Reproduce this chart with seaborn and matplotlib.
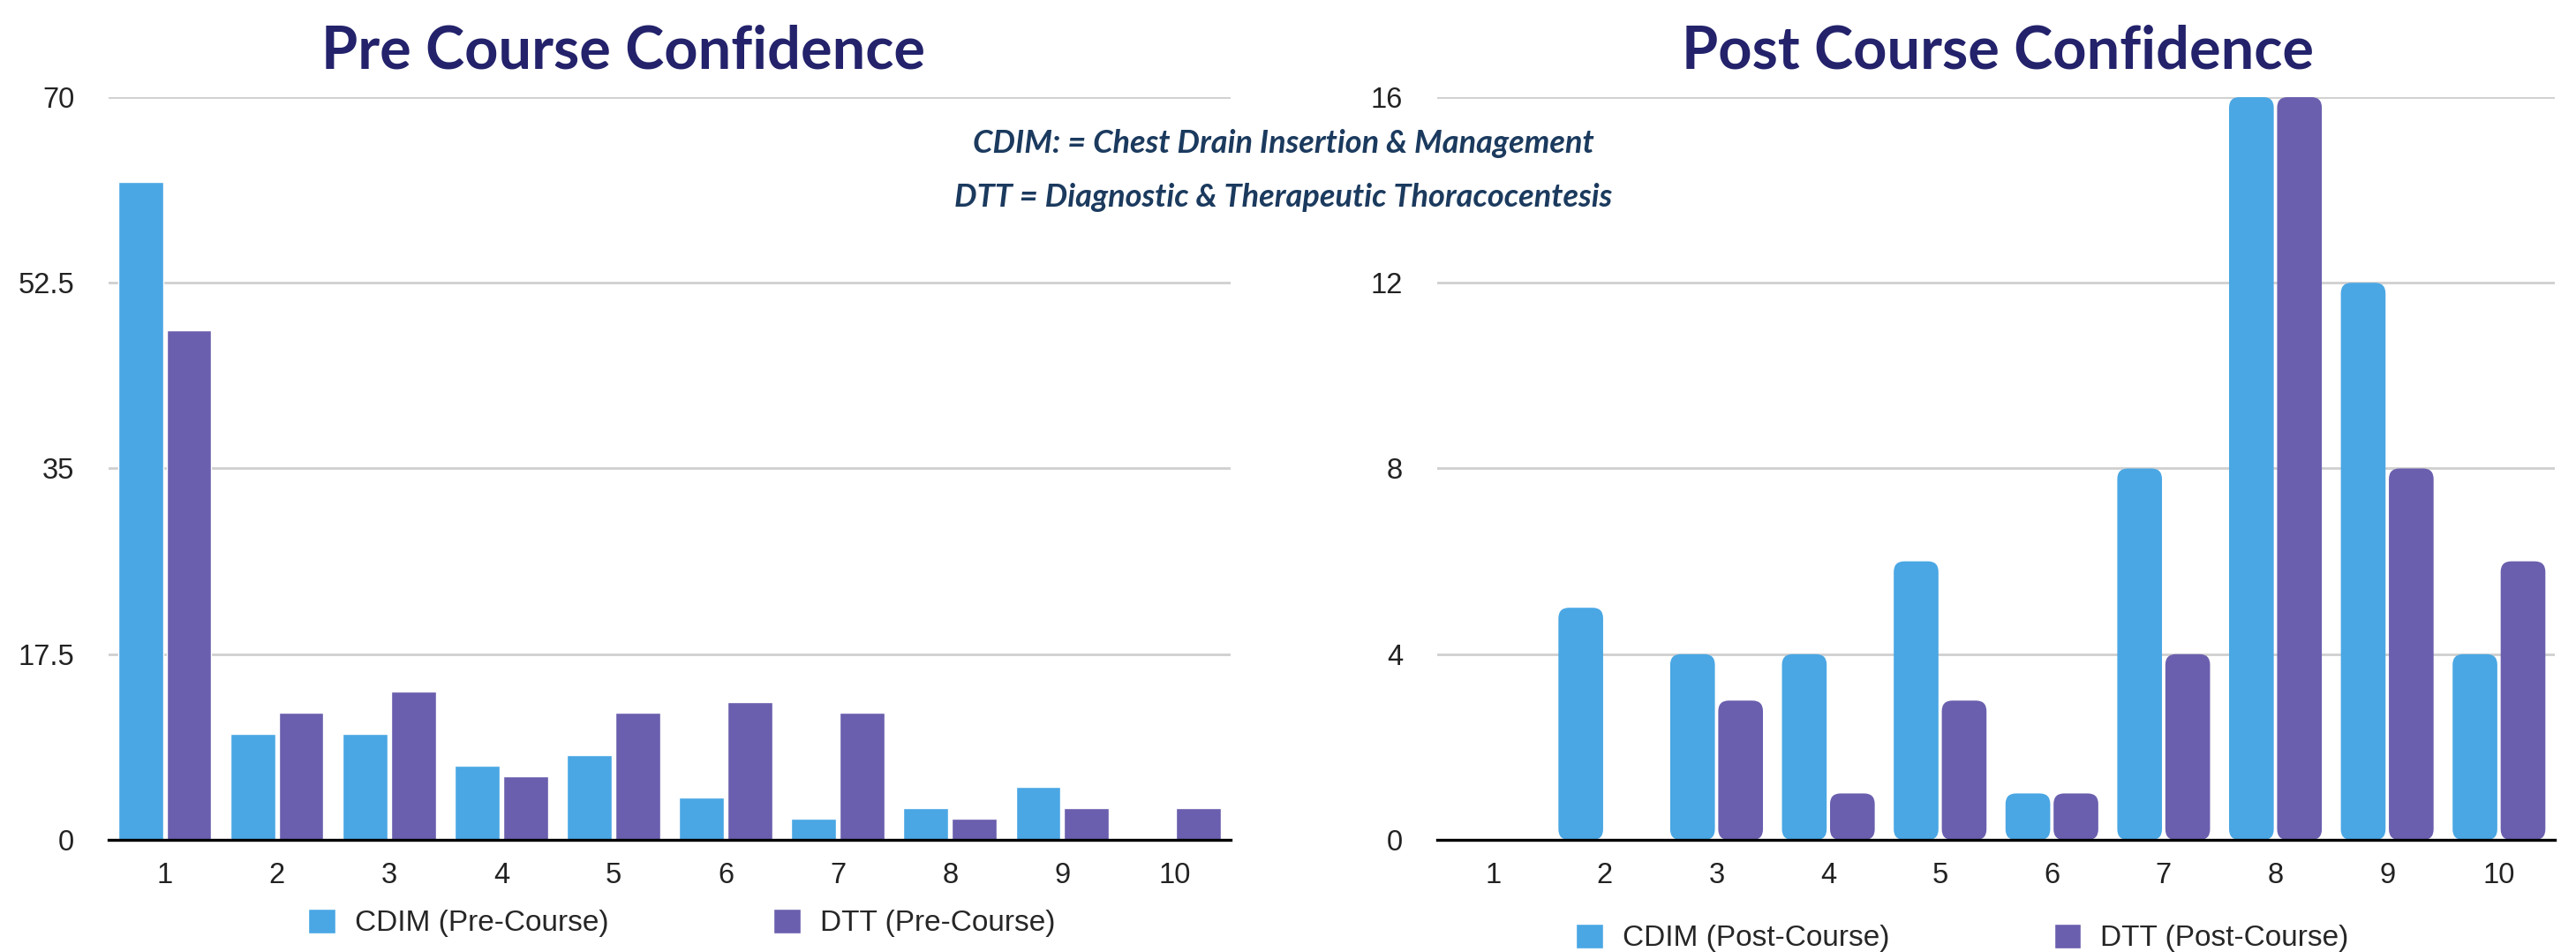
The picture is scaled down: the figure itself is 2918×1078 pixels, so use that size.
import pandas as pd
import seaborn as sns
import matplotlib.pyplot as plt
from matplotlib.patches import FancyBboxPatch, BoxStyle

# data
scores = ['1', '2', '3', '4', '5', '6', '7', '8', '9', '10']
pre_cdim = [62, 10, 10, 7, 8, 4, 2, 3, 5, 0]
pre_dtt = [48, 12, 14, 6, 12, 13, 12, 2, 3, 3]
post_cdim = [0, 5, 4, 4, 6, 1, 8, 16, 12, 4]
post_dtt = [0, 0, 3, 1, 3, 1, 4, 16, 8, 6]

pre_labels = ['CDIM (Pre-Course)', 'DTT (Pre-Course)']
post_labels = ['CDIM (Post-Course)', 'DTT (Post-Course)']
pre_ticks = [0, 17.5, 35, 52.5, 70]
pre_ticklabels = ['0', '17.5', '35', '52.5', '70']
post_ticks = [0, 4, 8, 12, 16]

BLUE = '#4aa7e4'
PURPLE = '#6a5fae'
TITLE_COL = '#23226b'
NOTE_COL = '#1b3a5e'

sns.set_theme(style='white')
plt.rcParams['font.family'] = ['Liberation Sans', 'DejaVu Sans']


def long_df(a, b, labels):
    return pd.DataFrame({
        'score': scores * 2,
        'count': a + b,
        'group': [labels[0]] * len(scores) + [labels[1]] * len(scores),
    })


def draw(ax, df, labels, ticks, ticklabels, top):
    sns.barplot(
        data=df, x='score', y='count', hue='group',
        order=scores, hue_order=labels,
        palette=[BLUE, PURPLE],
        width=0.86, gap=0.07,
        saturation=1, ax=ax
    )
    ax.set_ylim(0, top)
    ax.set_yticks(ticks)
    ax.set_yticklabels(ticklabels)
    ax.set_xlabel('')
    ax.set_ylabel('')
    ax.grid(axis='y', color='#cfcfcf', linewidth=2)
    ax.set_axisbelow(True)
    for s in ['left', 'right', 'top']:
        ax.spines[s].set_visible(False)
    ax.spines['bottom'].set_color('black')
    ax.spines['bottom'].set_linewidth(2.4)
    ax.spines['bottom'].set_zorder(5)
    ax.tick_params(axis='both', length=0, labelsize=23.5, colors='#222222')
    ax.tick_params(axis='x', pad=18)
    ax.tick_params(axis='y', pad=28)


fig = plt.figure(figsize=(29.18, 10.78), dpi=100)
ax1 = fig.add_axes([0.0422, 0.1178, 0.4355, 0.7802])
ax2 = fig.add_axes([0.5579, 0.1178, 0.4339, 0.7802])

draw(ax1, long_df(pre_cdim, pre_dtt, pre_labels), pre_labels, pre_ticks, pre_ticklabels, 70)
draw(ax2, long_df(post_cdim, post_dtt, post_labels), post_labels, post_ticks,
     [str(t) for t in post_ticks], 16)

# rounded bars on the post-course chart
fig.canvas.draw()
px_x = ax2.bbox.width / (ax2.get_xlim()[1] - ax2.get_xlim()[0])
px_y = ax2.bbox.height / (ax2.get_ylim()[1] - ax2.get_ylim()[0])
radius = 12
for p in list(ax2.patches):
    x, y = p.get_x(), p.get_y()
    w, h = p.get_width(), p.get_height()
    c = p.get_facecolor()
    p.remove()
    if h <= 0:
        continue
    rb = FancyBboxPatch(
        (x, y), w, h,
        boxstyle=BoxStyle.Round(pad=0, rounding_size=radius / px_x),
        mutation_aspect=px_x / px_y,
        facecolor=c, edgecolor='none', zorder=2
    )
    ax2.add_patch(rb)

# legends under the charts
for ax, xa, ya in [(ax1, 349 / 2918, 0.0306), (ax2, 1785 / 2918, 0.0150)]:
    sns.move_legend(
        ax, 'center left', bbox_to_anchor=(xa, ya),
        bbox_transform=fig.transFigure, ncol=2, title=None, frameon=False,
        fontsize=24, handlelength=0.92, handleheight=0.92,
        handletextpad=0.66, columnspacing=5.6, borderpad=0, borderaxespad=0
    )

# titles and note
fig.text(0.242, 0.946, 'Pre Course Confidence', ha='center', va='center',
         fontsize=48, fontweight='bold', color=TITLE_COL, family='Lato')
fig.text(0.7755, 0.946, 'Post Course Confidence', ha='center', va='center',
         fontsize=48, fontweight='bold', color=TITLE_COL, family='Lato')
fig.text(0.4983, 0.8497, 'CDIM: = Chest Drain Insertion & Management',
         ha='center', va='center', fontsize=26, fontweight='bold',
         style='italic', color=NOTE_COL, family='Lato')
fig.text(0.4983, 0.7931, 'DTT = Diagnostic & Therapeutic Thoracocentesis',
         ha='center', va='center', fontsize=26, fontweight='bold',
         style='italic', color=NOTE_COL, family='Lato')

fig.savefig('out.png', dpi=100)
